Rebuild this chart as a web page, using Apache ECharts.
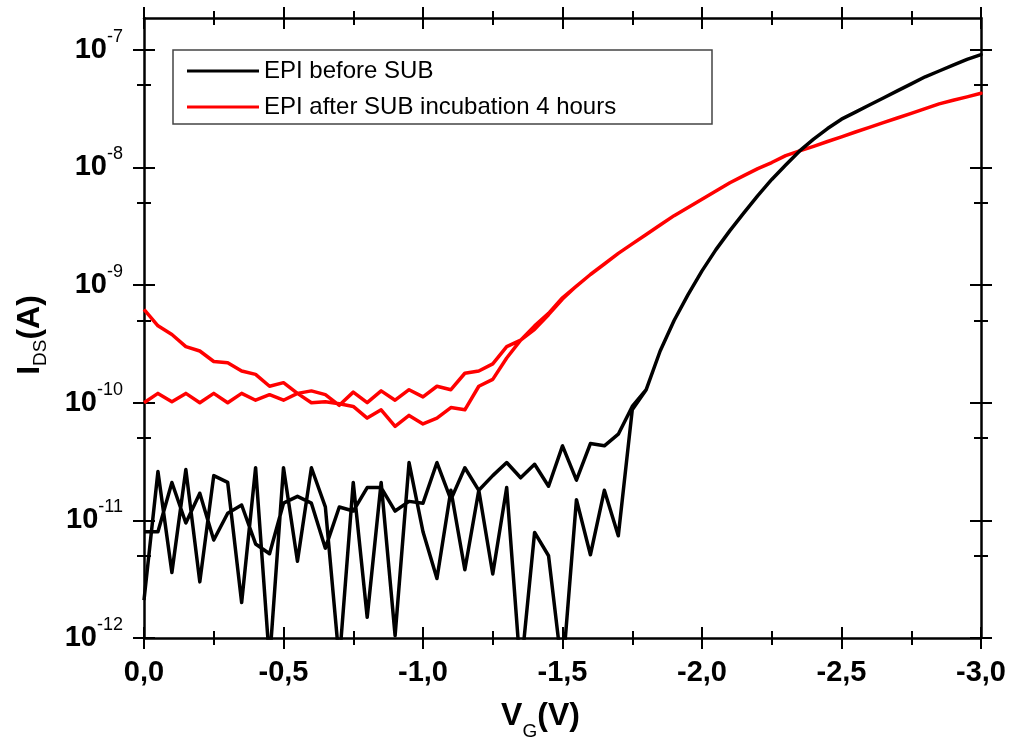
<!DOCTYPE html>
<html><head><meta charset="utf-8">
<script src="https://cdn.jsdelivr.net/npm/echarts@6/dist/echarts.min.js"></script>
<style>html,body{margin:0;padding:0;background:#fff}#c{width:1011px;height:743px}</style>
</head><body><div id="c"></div>
<script>
// Gate voltage steps (V)
const vg = [0.00,-0.05,-0.10,-0.15,-0.20,-0.25,-0.30,-0.35,-0.40,-0.45,-0.50,-0.55,-0.60,-0.65,-0.70,-0.75,-0.80,-0.85,-0.90,-0.95,
  -1.00,-1.05,-1.10,-1.15,-1.20,-1.25,-1.30,-1.35,-1.40,-1.45,-1.50,-1.55,-1.60,-1.65,-1.70,-1.75,-1.80,-1.85,-1.90,-1.95,
  -2.00,-2.05,-2.10,-2.15,-2.20,-2.25,-2.30,-2.35,-2.40,-2.45,-2.50,-2.55,-2.60,-2.65,-2.70,-2.75,-2.80,-2.85,-2.90,-2.95,-3.00];

// EPI before SUB: I_DS (A), off-state noise for the two sweeps (0 .. -1.75 V)
const blackSweepOut = [2.1e-12,2.6e-11,3.6e-12,2.7e-11,3.0e-12,2.4e-11,2.1e-11,2.0e-12,2.8e-11,6.3e-13,2.8e-11,4.5e-12,2.8e-11,1.3e-11,6.3e-13,2.1e-11,1.5e-12,2.1e-11,1.05e-12,3.1e-11,
  8e-12,3.2e-12,1.8e-11,3.8e-12,1.8e-11,3.5e-12,1.9e-11,5e-13,7.9e-12,5.0e-12,5e-13,1.5e-11,5.1e-12,1.8e-11,7.4e-12,8.7e-11];
const blackSweepBack = [8e-12,8e-12,2.1e-11,9.5e-12,1.7e-11,6.8e-12,1.15e-11,1.35e-11,6.3e-12,5.2e-12,1.4e-11,1.6e-11,1.4e-11,5.8e-12,1.3e-11,1.2e-11,1.9e-11,1.9e-11,1.2e-11,1.45e-11,
  1.4e-11,3.1e-11,1.5e-11,2.8e-11,1.8e-11,2.4e-11,3.1e-11,2.3e-11,3.0e-11,1.95e-11,4.3e-11,2.2e-11,4.5e-11,4.3e-11,5.4e-11,9.3e-11];
// on-state part (-1.80 .. -3.00 V), common to both sweeps
const blackOn = [1.29e-10,2.75e-10,5.0e-10,8.3e-10,1.32e-9,2.0e-9,2.9e-9,4.1e-9,5.75e-9,7.9e-9,1.05e-8,1.38e-8,1.74e-8,2.14e-8,2.57e-8,2.95e-8,3.39e-8,3.89e-8,4.47e-8,5.13e-8,5.89e-8,6.6e-8,7.4e-8,8.3e-8,9.1e-8];

// EPI after SUB incubation 4 hours: I_DS (A), 0 .. -1.50 V for the two sweeps
const redSweepOut = [6.2e-10,4.5e-10,3.8e-10,3.0e-10,2.75e-10,2.24e-10,2.19e-10,1.86e-10,1.74e-10,1.38e-10,1.48e-10,1.2e-10,1.0e-10,1.02e-10,9.8e-11,9.3e-11,7.4e-11,8.7e-11,6.3e-11,7.8e-11,
  6.6e-11,7.4e-11,9.1e-11,8.7e-11,1.38e-10,1.58e-10,2.4e-10,3.4e-10,4.5e-10,5.75e-10,7.8e-10];
const redSweepBack = [1.0e-10,1.2e-10,1.02e-10,1.2e-10,1.0e-10,1.2e-10,1.0e-10,1.2e-10,1.05e-10,1.17e-10,1.05e-10,1.2e-10,1.26e-10,1.17e-10,9.5e-11,1.23e-10,1.0e-10,1.26e-10,1.05e-10,1.29e-10,
  1.12e-10,1.38e-10,1.29e-10,1.78e-10,1.86e-10,2.14e-10,3.0e-10,3.4e-10,4.2e-10,5.6e-10,7.6e-10];
// -1.55 .. -3.00 V, common to both sweeps
const redOn = [9.8e-10,1.23e-9,1.51e-9,1.86e-9,2.24e-9,2.69e-9,3.24e-9,3.89e-9,4.57e-9,5.37e-9,6.31e-9,7.41e-9,8.51e-9,9.77e-9,1.10e-8,1.26e-8,1.38e-8,1.51e-8,1.66e-8,1.82e-8,
  2.0e-8,2.19e-8,2.40e-8,2.63e-8,2.88e-8,3.16e-8,3.47e-8,3.72e-8,3.98e-8,4.27e-8];

// axis ticks (decade exponents) and minor ticks (currents)
const yDecades = [-12,-11,-10,-9,-8,-7];
const yMinorCurrents = [5e-12,5e-11,5e-10,5e-9,5e-8];
const seriesNames = ['EPI before SUB','EPI after SUB incubation 4 hours'];

function loopData(out, back, on) {
  const a = out.concat(on), b = back.concat(on);
  const fwd = a.map((I, i) => [vg[i], Math.log10(I)]);
  const rev = b.map((I, i) => [vg[i], Math.log10(I)]).reverse();
  return fwd.concat(rev);
}

const FONT = '"Liberation Sans", Arial, sans-serif';
const yMin = -12, yMax = -6.73;
const yMinor = yMinorCurrents.map(v => Math.log10(v));

function yAx(pos, inside, major, primary) {
  return {
    type: 'value', position: pos, min: yMin, max: yMax, interval: 1,
    axisLine: {show: primary, onZero: false, lineStyle: {color: '#000', width: 2.5}},
    axisTick: {show: true, inside: inside, length: major ? 11 : 7, lineStyle: {color: '#000', width: 2}},
    axisLabel: primary && pos === 'left' ? {
      show: true, margin: 21, customValues: yDecades,
      formatter: v => '{b|10}{s|' + Math.round(v) + '}',
      rich: {
        b: {fontSize: 29, fontWeight: 'bold', lineHeight: 29, color: '#000', fontFamily: FONT},
        s: {fontSize: 18, lineHeight: 18, padding: [0, 0, 26, 0], color: '#000', fontFamily: FONT}
      }
    } : {show: false},
    splitLine: {show: false},
    name: primary && pos === 'left' ? '{a|I}{d|DS}{a|(A)}' : '',
    nameLocation: 'middle', nameGap: 98,
    nameTextStyle: {padding: [0, 14, 0, 0], rich: {
      a: {fontSize: 32, fontWeight: 'bold', lineHeight: 32, color: '#000', fontFamily: FONT},
      d: {fontSize: 19, lineHeight: 19, padding: [21, 0, 0, 0], color: '#000', fontFamily: FONT}
    }}
  };
}
function yAxFix(cfg, major) {
  cfg.axisTick.customValues = major ? yDecades : yMinor;
  return cfg;
}
function xAx(pos, inside, primary) {
  return {
    type: 'value', position: pos, min: -3, max: 0, interval: 0.5, inverse: true,
    axisLine: {show: primary, onZero: false, lineStyle: {color: '#000', width: 2.5}},
    axisTick: {show: true, inside: inside, length: 11, lineStyle: {color: '#000', width: 2}},
    minorTick: {show: true, splitNumber: 2, length: 7, lineStyle: {color: '#000', width: 2}},
    axisLabel: primary && pos === 'bottom' ? {
      show: true, margin: 20, fontSize: 29, fontWeight: 'bold', color: '#000', fontFamily: FONT,
      formatter: v => v.toFixed(1).replace('.', ',')
    } : {show: false},
    splitLine: {show: false}, minorSplitLine: {show: false},
    name: primary && pos === 'bottom' ? '{a|V}{g|G}{a|(V)}' : '',
    nameLocation: 'middle', nameGap: 49,
    nameTextStyle: {padding: [0, 44, 0, 0], rich: {
      a: {fontSize: 32, fontWeight: 'bold', lineHeight: 32, color: '#000', fontFamily: FONT},
      g: {fontSize: 19, lineHeight: 19, padding: [30, 0, 0, 0], color: '#000', fontFamily: FONT}
    }}
  };
}

// legend box sizing: keep the frame of the reference legend
const LEG_FONT = 24;
const cv = document.createElement('canvas').getContext('2d');
cv.font = LEG_FONT + 'px ' + FONT;
const textW = Math.max.apply(null, seriesNames.map(s => cv.measureText(s).width));
const legPadL = 14, legItemW = 72;
const legPadR = Math.max(10, (712 - 173) - legPadL - legItemW - 5 - textW);

const chart = echarts.init(document.getElementById('c'), null, {renderer: 'canvas'});
chart.setOption({
  animation: false,
  backgroundColor: '#fff',
  grid: {left: 144, right: 30, top: 18, bottom: 105, containLabel: false, outerBoundsMode: 'none'},
  legend: {
    data: seriesNames, orient: 'vertical', left: 173, top: 50,
    backgroundColor: '#fff', borderColor: '#444', borderWidth: 1.5, borderRadius: 0,
    padding: [9, legPadR, 5, legPadL],
    itemWidth: legItemW, itemHeight: 3, itemGap: 12, icon: 'rect',
    textStyle: {fontSize: LEG_FONT, lineHeight: 24, color: '#000', fontFamily: FONT},
    selectedMode: false
  },
  xAxis: [xAx('bottom', false, true), xAx('bottom', true, false), xAx('top', false, true), xAx('top', true, false)],
  yAxis: [yAxFix(yAx('left', false, true, true), true), yAxFix(yAx('left', true, true, false), true),
          yAxFix(yAx('left', false, false, false), false), yAxFix(yAx('left', true, false, false), false),
          yAxFix(yAx('right', false, true, true), true), yAxFix(yAx('right', true, true, false), true),
          yAxFix(yAx('right', false, false, false), false), yAxFix(yAx('right', true, false, false), false)],
  series: [
    {type: 'line', name: seriesNames[1], xAxisIndex: 0, yAxisIndex: 0, data: loopData(redSweepOut, redSweepBack, redOn),
     symbol: 'none', showSymbol: false, clip: true, z: 2, itemStyle: {color: '#ff0000'},
     lineStyle: {color: '#ff0000', width: 3.5, join: 'round'}},
    {type: 'line', name: seriesNames[0], xAxisIndex: 0, yAxisIndex: 0, data: loopData(blackSweepOut, blackSweepBack, blackOn),
     symbol: 'none', showSymbol: false, clip: true, z: 3, itemStyle: {color: '#000'},
     lineStyle: {color: '#000', width: 3.5, join: 'round'}}
  ]
});
</script>
</body></html>
